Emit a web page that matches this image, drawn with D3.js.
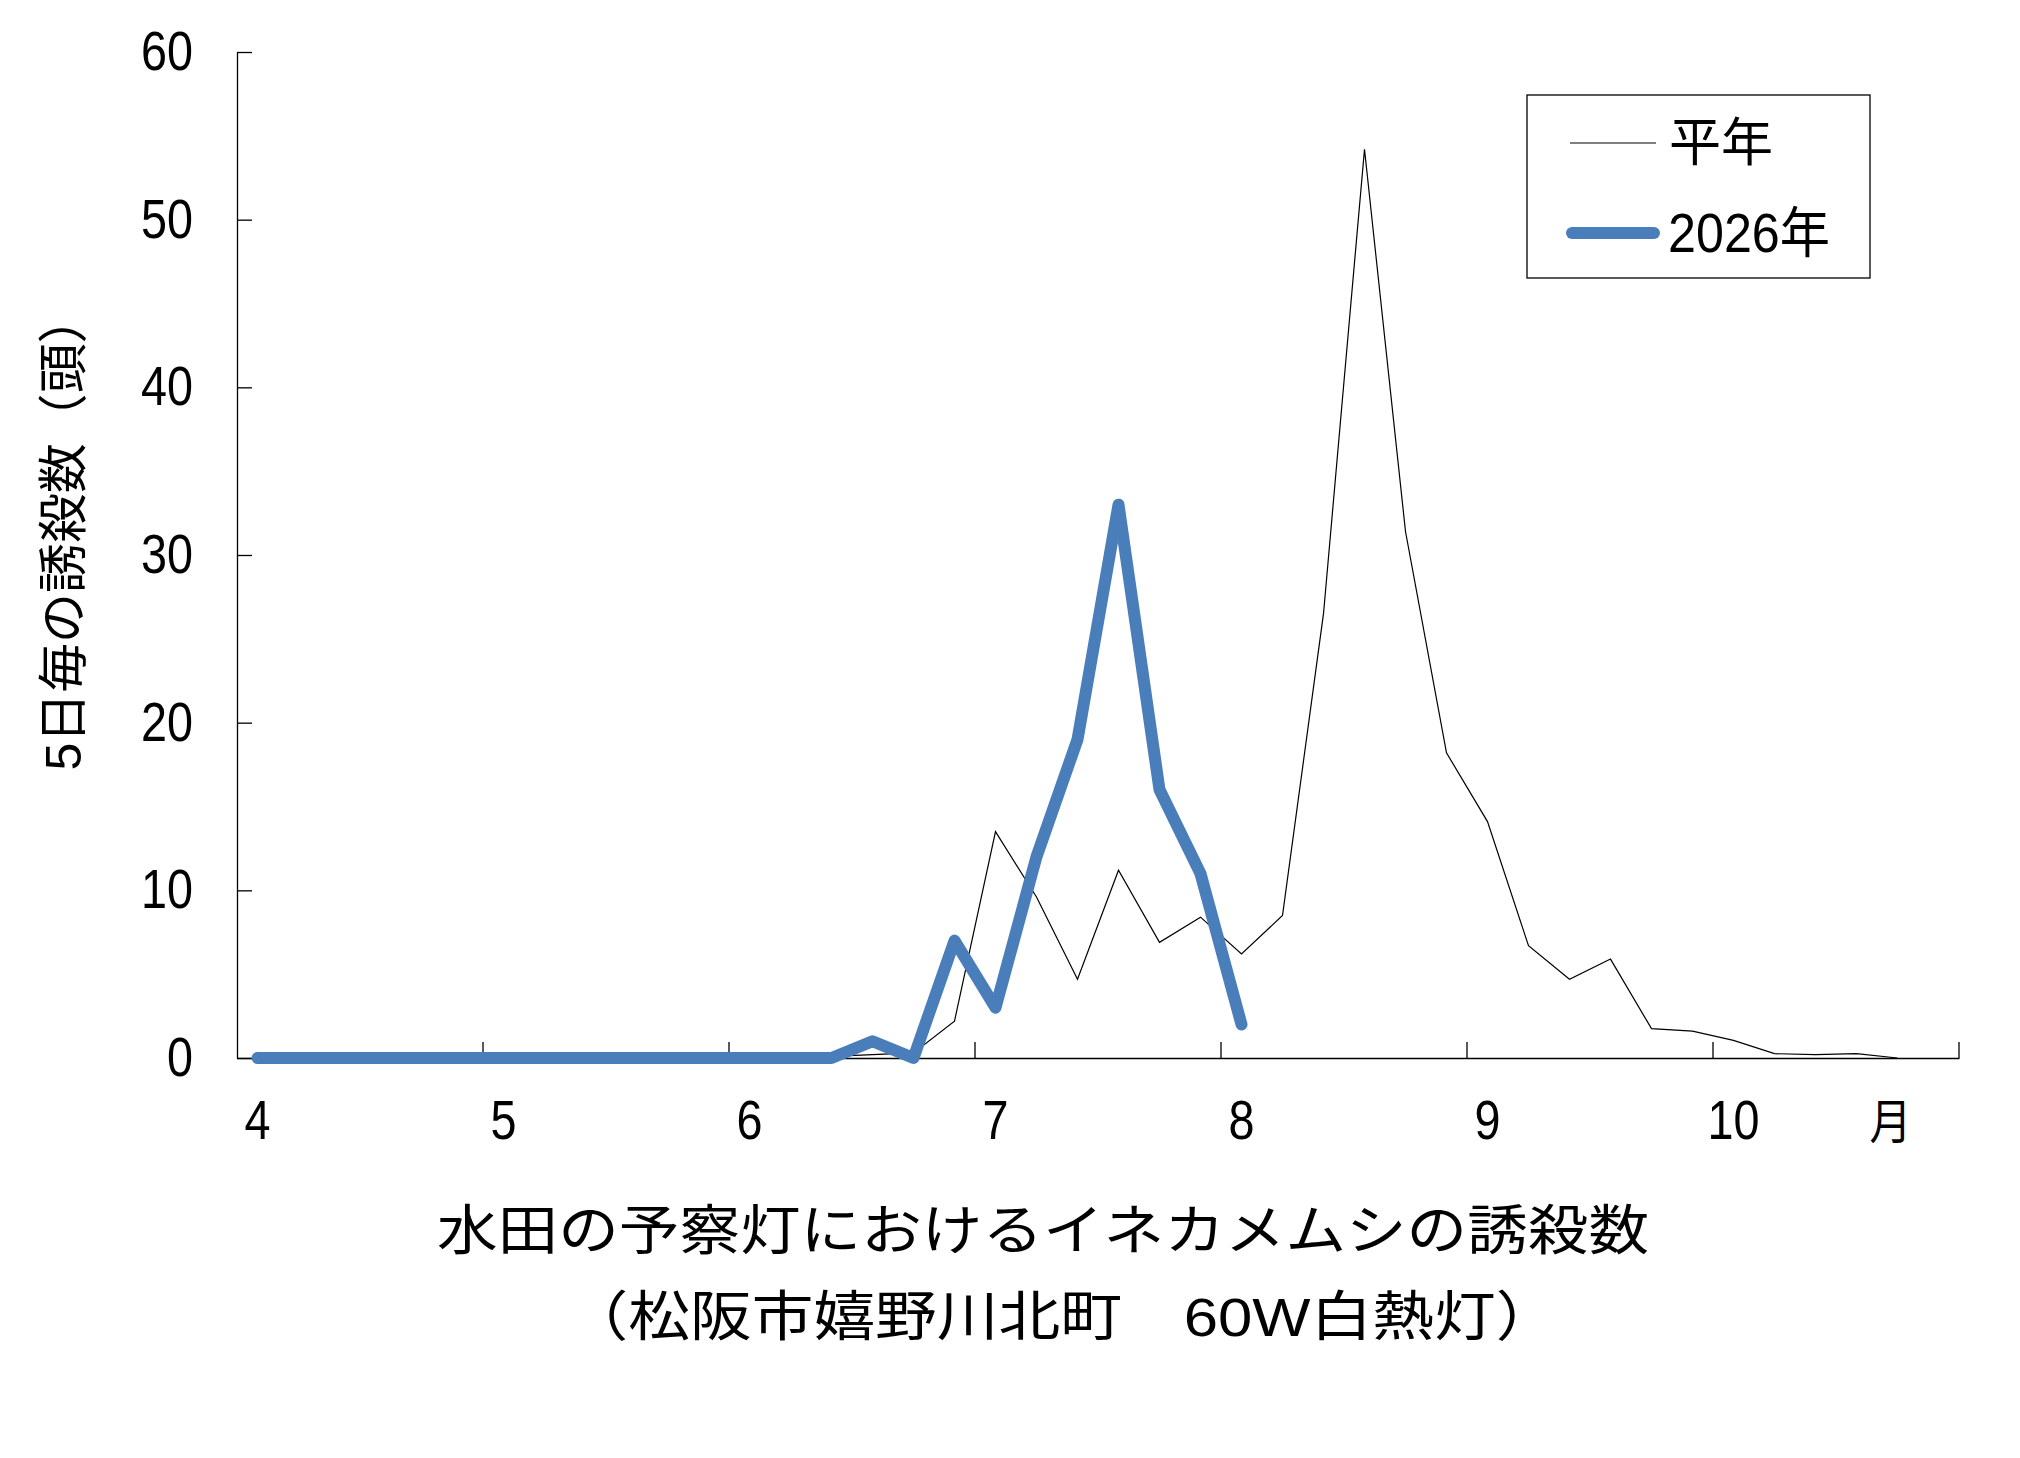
<!DOCTYPE html>
<html>
<head>
<meta charset="utf-8">
<script src="https://cdn.jsdelivr.net/npm/d3@7"></script>
<style>
  body { margin: 0; background: #fff; }
  svg text { font-family: "Liberation Sans", "Noto Sans CJK JP", sans-serif; fill: #000; }
</style>
</head>
<body>
<div id="chart"></div>
<script>
width = 2020;
height = 1458;
chart_margins = {left: 237, right: 61, top: 52, bottom: 400};

// 5-day periods (半旬), April to October
var periods = [
  "4-1","4-2","4-3","4-4","4-5","4-6",
  "5-1","5-2","5-3","5-4","5-5","5-6",
  "6-1","6-2","6-3","6-4","6-5","6-6",
  "7-1","7-2","7-3","7-4","7-5","7-6",
  "8-1","8-2","8-3","8-4","8-5","8-6",
  "9-1","9-2","9-3","9-4","9-5","9-6",
  "10-1","10-2","10-3","10-4","10-5","10-6"
];
var monthLabels = ["4","5","6","7","8","9","10"];
var monthLabelAt = ["4-1","5-1","6-1","7-1","8-1","9-1","10-1"];
var unitLabel = "月";
var unitLabelAt = "10-5";

var heinen = [
  0, 0, 0, 0, 0, 0,
  0, 0, 0, 0, 0, 0,
  0, 0, 0.1, 0.2, 0.3, 2.2,
  13.5, 9.6, 4.7, 11.2, 6.9, 8.4,
  6.2, 8.5, 26.5, 54.2, 31.4, 18.2,
  14.1, 6.7, 4.7, 5.9, 1.75, 1.6,
  1.05, 0.26, 0.2, 0.26, 0, null
];
var y2026 = [
  0, 0, 0, 0, 0, 0,
  0, 0, 0, 0, 0, 0,
  0, 0, 0, 1, 0, 7,
  3, 12, 19, 33, 16, 11,
  2, null, null, null, null, null,
  null, null, null, null, null, null,
  null, null, null, null, null, null
];
var yTicks = [0, 10, 20, 30, 40, 50, 60];
var seriesNames = ["平年", "2026年"];

var digitW = 26;   // narrow digit look of the original font

var xBand = d3.scaleBand().domain(periods)
    .range([chart_margins.left, width - chart_margins.right]).padding(0);
var xCenter = function(p) { return xBand(p) + xBand.bandwidth() / 2; };
var yScale = d3.scaleLinear().domain([0, 60])
    .range([height - chart_margins.bottom, chart_margins.top]);

var plot = d3.select("#chart").append("svg")
    .attr("width", width)
    .attr("height", height);

// month boundary ticks (every 6 periods, pointing up into the plot)
var boundaries = periods.filter(function(p, i) { return i % 6 == 0 && i > 0; });
var xAxis = d3.axisBottom(xBand)
    .tickValues(boundaries)
    .tickSize(-16)
    .tickSizeOuter(0)
    .tickFormat("");
var xg = plot.append("g")
    .attr("transform", "translate(0, " + yScale(0) + ")")
    .call(xAxis);
xg.selectAll(".tick").attr("transform", function(d) { return "translate(" + xBand(d) + ",0)"; });
xg.select(".domain").attr("stroke", "#000").attr("stroke-width", 1.6);
xg.selectAll(".tick line").attr("stroke", "#000").attr("stroke-width", 1.3);
plot.append("line")
    .attr("x1", width - chart_margins.right).attr("x2", width - chart_margins.right)
    .attr("y1", yScale(0)).attr("y2", yScale(0) - 16)
    .attr("stroke", "#000").attr("stroke-width", 1.3);

// month labels on first period of each month
plot.append("g").selectAll("text")
    .data(monthLabels)
    .enter()
    .append("text")
    .attr("x", function(d, i) { return xCenter(monthLabelAt[i]); })
    .attr("y", 1139)
    .attr("text-anchor", "middle")
    .attr("font-size", 55)
    .attr("textLength", function(d) { return d.length * digitW; })
    .attr("lengthAdjust", "spacingAndGlyphs")
    .text(function(d) { return d; });
plot.append("text")
    .attr("x", xCenter(unitLabelAt) - 7)
    .attr("y", 1139)
    .attr("text-anchor", "middle")
    .attr("font-size", 48)
    .attr("textLength", 42)
    .attr("lengthAdjust", "spacingAndGlyphs")
    .text(unitLabel);

// y axis, ticks inward
var yAxis = d3.axisLeft(yScale).tickValues(yTicks).tickSize(-15).tickSizeOuter(0).tickPadding(44);
var yg = plot.append("g")
    .attr("transform", "translate(" + chart_margins.left + ", 0)")
    .call(yAxis);
yg.select(".domain").attr("stroke", "#000").attr("stroke-width", 1.3);
yg.selectAll(".tick line").attr("stroke", "#000").attr("stroke-width", 1.3);
yg.selectAll(".tick text")
    .attr("font-size", 55)
    .attr("font-family", "Liberation Sans, sans-serif")
    .attr("fill", "#000")
    .attr("textLength", function(d) { return String(d).length * digitW; })
    .attr("lengthAdjust", "spacingAndGlyphs");

// series lines
var line = d3.line()
    .defined(function(d) { return d.v != null; })
    .x(function(d) { return xCenter(d.p); })
    .y(function(d) { return yScale(d.v); });

plot.append("path")
    .datum(periods.map(function(p, i) { return {p: p, v: heinen[i]}; }))
    .attr("fill", "none")
    .attr("stroke", "#000")
    .attr("stroke-width", 1.2)
    .attr("d", line);

plot.append("path")
    .datum(periods.map(function(p, i) { return {p: p, v: y2026[i]}; }))
    .attr("fill", "none")
    .attr("stroke", "#4a7ebb")
    .attr("stroke-width", 12)
    .attr("stroke-linejoin", "round")
    .attr("stroke-linecap", "round")
    .attr("d", line);

// legend
var legend = plot.append("g");
legend.append("rect")
    .attr("x", 1527).attr("y", 95)
    .attr("width", 343).attr("height", 183)
    .attr("fill", "#fff").attr("stroke", "#000").attr("stroke-width", 1.3);
legend.append("line")
    .attr("x1", 1570).attr("x2", 1656).attr("y1", 143).attr("y2", 143)
    .attr("stroke", "#000").attr("stroke-width", 1.2);
legend.append("line")
    .attr("x1", 1572).attr("x2", 1654).attr("y1", 233).attr("y2", 233)
    .attr("stroke", "#4a7ebb").attr("stroke-width", 12).attr("stroke-linecap", "round");
legend.append("text")
    .attr("x", 1669).attr("y", 161)
    .attr("font-size", 52)
    .attr("textLength", 104).attr("lengthAdjust", "spacingAndGlyphs")
    .text(seriesNames[0]);
legend.append("text")
    .attr("x", 1668).attr("y", 252)
    .attr("font-size", 55)
    .attr("textLength", 162).attr("lengthAdjust", "spacingAndGlyphs")
    .text(seriesNames[1]);

// y axis title
plot.append("text")
    .attr("transform", "translate(81, 532) rotate(-90)")
    .attr("text-anchor", "middle")
    .attr("font-size", 50)
    .attr("textLength", 477).attr("lengthAdjust", "spacingAndGlyphs")
    .text("5日毎の誘殺数（頭）");

// chart title
plot.append("text")
    .attr("x", 1043).attr("y", 1250)
    .attr("text-anchor", "middle")
    .attr("font-size", 54)
    .attr("textLength", 1212).attr("lengthAdjust", "spacingAndGlyphs")
    .text("水田の予察灯におけるイネカメムシの誘殺数");
plot.append("text")
    .attr("x", 1062).attr("y", 1336)
    .attr("text-anchor", "middle")
    .attr("font-size", 54)
    .attr("textLength", 991).attr("lengthAdjust", "spacingAndGlyphs")
    .text("（松阪市嬉野川北町　60W白熱灯）");
</script>
</body>
</html>
